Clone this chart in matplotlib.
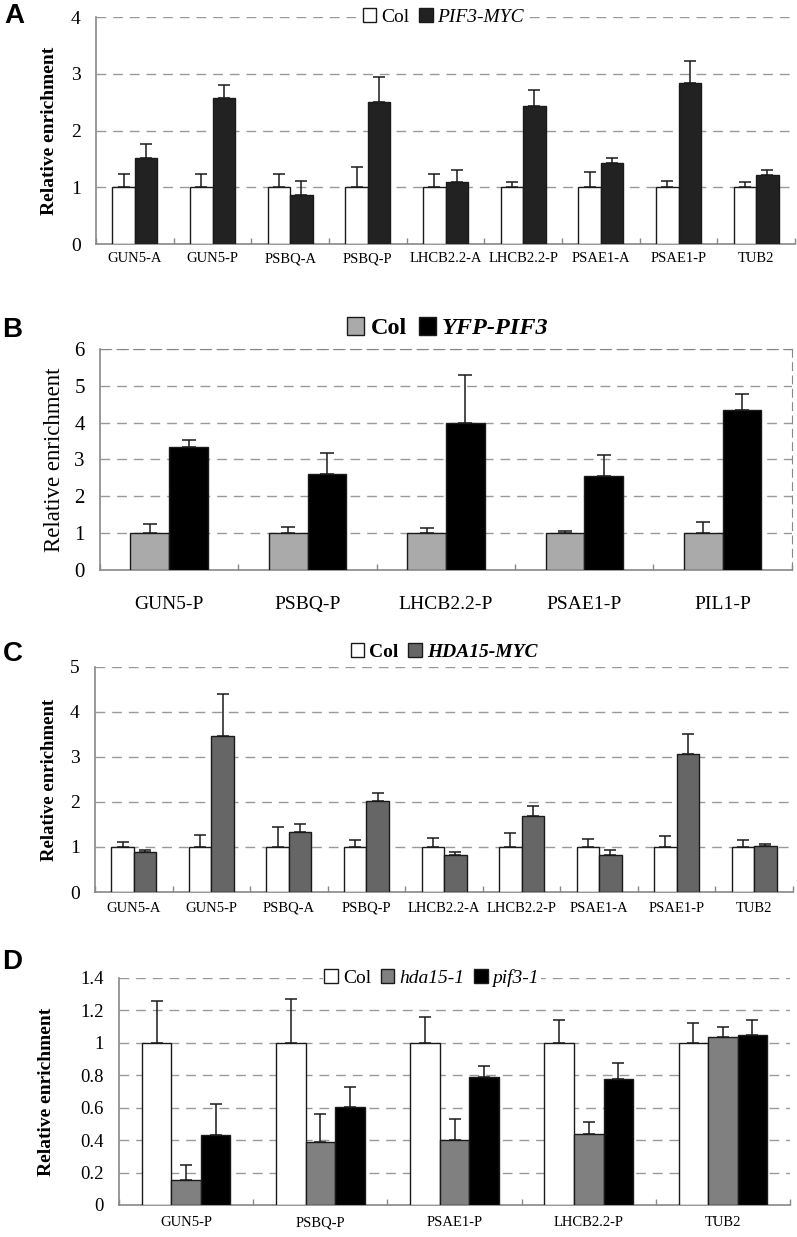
import matplotlib.pyplot as plt
import numpy as np

plt.rcParams['font.family'] = ['Liberation Serif', 'DejaVu Serif']

# Panel A: Col vs PIF3-MYC
a_labels = ['GUN5-A', 'GUN5-P', 'PSBQ-A', 'PSBQ-P', 'LHCB2.2-A', 'LHCB2.2-P', 'PSAE1-A', 'PSAE1-P', 'TUB2']
a_col = [1, 1, 1, 1, 1, 1, 1, 1, 1]
a_col_err = [0.24, 0.24, 0.24, 0.36, 0.24, 0.10, 0.27, 0.12, 0.09]
a_pif = [1.52, 2.58, 0.86, 2.50, 1.10, 2.44, 1.42, 2.83, 1.22]
a_pif_err = [0.24, 0.23, 0.26, 0.44, 0.21, 0.27, 0.10, 0.40, 0.08]

# Panel B: Col vs YFP-PIF3
b_labels = ['GUN5-P', 'PSBQ-P', 'LHCB2.2-P', 'PSAE1-P', 'PIL1-P']
b_col = [1, 1, 1, 1, 1]
b_col_err = [0.26, 0.18, 0.14, 0.07, 0.30]
b_yfp = [3.33, 2.61, 3.99, 2.54, 4.33]
b_yfp_err = [0.20, 0.56, 1.30, 0.59, 0.44]

# Panel C: Col vs HDA15-MYC
c_labels = a_labels
c_col = [1, 1, 1, 1, 1, 1, 1, 1, 1]
c_col_err = [0.10, 0.26, 0.44, 0.16, 0.19, 0.32, 0.18, 0.25, 0.16]
c_hda = [0.89, 3.47, 1.33, 2.02, 0.83, 1.68, 0.83, 3.06, 1.03]
c_hda_err = [0.04, 0.93, 0.18, 0.19, 0.05, 0.24, 0.10, 0.44, 0.04]

# Panel D: Col, hda15-1, pif3-1
d_labels = ['GUN5-P', 'PSBQ-P', 'PSAE1-P', 'LHCB2.2-P', 'TUB2']
d_col = [1, 1, 1, 1, 1]
d_col_err = [0.26, 0.27, 0.16, 0.14, 0.12]
d_hda = [0.154, 0.39, 0.40, 0.44, 1.037]
d_hda_err = [0.09, 0.17, 0.13, 0.07, 0.06]
d_pif = [0.43, 0.606, 0.788, 0.774, 1.049]
d_pif_err = [0.19, 0.12, 0.07, 0.10, 0.09]


def draw_panel(ax, labels, series, names, colors, width, ylim, yticks,
               ylabel, ylabel_bold, ylabel_size, ytick_size, xtick_size,
               xpad, leg_size, leg_bold, leg_anchor, yl_x, capsize):
    n = len(labels)
    x = np.arange(n) + 0.5
    k = len(series)
    for i, ((vals, errs), name, c) in enumerate(zip(series, names, colors)):
        pos = x + (i - (k - 1) / 2) * width
        ax.bar(pos, vals, width, color=c, edgecolor='#1a1a1a', linewidth=1.0,
               label=name, zorder=3)
        ax.errorbar(pos, vals, yerr=[np.zeros(n), errs], fmt='none',
                    ecolor='#1a1a1a', elinewidth=1.1, capsize=capsize,
                    capthick=1.1, zorder=4)
    ax.set_xlim(0, n)
    ax.set_ylim(*ylim)
    ax.set_yticks(yticks)
    ax.set_yticklabels([('%g' % t) for t in yticks], fontsize=ytick_size)
    ax.tick_params(axis='y', length=0, pad=11)
    ax.set_xticks(x)
    ax.set_xticklabels(labels, fontsize=xtick_size)
    ax.tick_params(axis='x', which='major', length=0, pad=xpad)
    # small tick marks between groups
    ax.set_xticks(np.arange(n + 1), minor=True)
    ax.tick_params(axis='x', which='minor', direction='in', length=4,
                   color='#888888', width=1)
    for t in yticks[1:]:
        ax.axhline(t, color='#999999', lw=1, ls=(0, (7, 5)), zorder=1)
    for s in ['top', 'right']:
        ax.spines[s].set_visible(False)
    for s in ['left', 'bottom']:
        ax.spines[s].set_color('#888888')
        ax.spines[s].set_linewidth(1.2)
    ax.set_ylabel(ylabel, fontsize=ylabel_size,
                  fontweight='bold' if ylabel_bold else 'normal')
    ax.yaxis.set_label_coords(yl_x, 0.5)
    leg = ax.legend(loc='center', bbox_to_anchor=leg_anchor, ncol=k,
                    frameon=True, framealpha=1, facecolor='white',
                    edgecolor='none', fancybox=False, borderpad=0.1,
                    handlelength=0.7, handleheight=0.75, handletextpad=0.25,
                    columnspacing=0.5,
                    prop={'size': leg_size, 'weight': 'bold' if leg_bold else 'normal'})
    leg.set_zorder(5)
    for t in leg.get_texts()[1:]:
        t.set_style('italic')
    return ax


fig = plt.figure(figsize=(7.97, 12.37), dpi=100)

axA = fig.add_axes([0.1205, 0.8027, 0.877, 0.1835])
draw_panel(axA, a_labels, [(a_col, a_col_err), (a_pif, a_pif_err)],
           ['Col', 'PIF3-MYC'], ['white', '#222222'], 0.29, (0, 4), [0, 1, 2, 3, 4],
           'Relative enrichment', True, 14, 14, 10.5, 6, 14, False, (0.497, 1.0),
           -0.054, 4.5)

axB = fig.add_axes([0.1255, 0.5392, 0.868, 0.1787])
draw_panel(axB, b_labels, [(b_col, b_col_err), (b_yfp, b_yfp_err)],
           ['Col', 'YFP-PIF3'], ['#aaaaaa', 'black'], 0.28, (0, 6), [0, 1, 2, 3, 4, 5, 6],
           'Relative enrichment', False, 16.5, 15, 14, 19, 17.5, True, (0.503, 1.095),
           -0.051, 5)
axB.spines['top'].set_visible(True)
axB.spines['top'].set_color('#888888')
axB.spines['top'].set_linestyle((0, (10, 5)))
axB.spines['right'].set_visible(True)
axB.spines['right'].set_color('#888888')
axB.spines['right'].set_linestyle((0, (7, 5)))

axC = fig.add_axes([0.1192, 0.2789, 0.8758, 0.1819])
draw_panel(axC, c_labels, [(c_col, c_col_err), (c_hda, c_hda_err)],
           ['Col', 'HDA15-MYC'], ['white', '#666666'], 0.29, (0, 5), [0, 1, 2, 3, 4, 5],
           'Relative enrichment', True, 13.5, 14, 10.5, 7, 14, True, (0.5, 1.067),
           -0.053, 4.5)

axD = fig.add_axes([0.1493, 0.0259, 0.842, 0.1835])
draw_panel(axD, d_labels, [(d_col, d_col_err), (d_hda, d_hda_err), (d_pif, d_pif_err)],
           ['Col', 'hda15-1', 'pif3-1'], ['white', '#808080', 'black'], 0.22, (0, 1.4),
           [0, 0.2, 0.4, 0.6, 0.8, 1, 1.2, 1.4],
           'Relative enrichment', True, 14, 13.5, 10.5, 8, 14, False, (0.466, 1.0),
           -0.095, 4)

# panel letters
for letter, (px, py) in zip('ABCD', [(14, 16), (12, 330), (13, 654), (12, 962)]):
    fig.text(px / 797, 1 - py / 1237, letter, fontsize=20, fontweight='bold',
             family=['Liberation Sans', 'DejaVu Sans'], ha='center', va='center')

plt.savefig('out.png', dpi=100)
